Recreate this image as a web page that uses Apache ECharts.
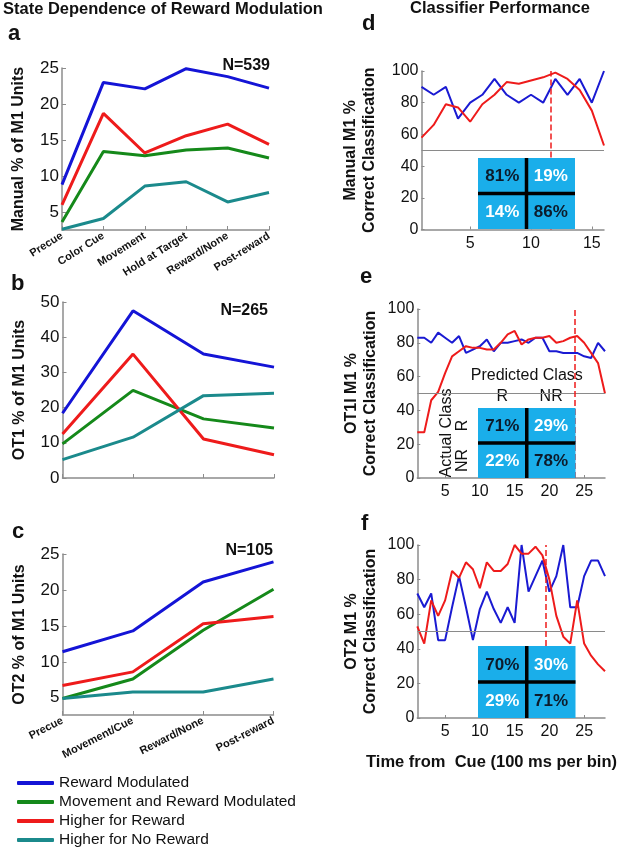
<!DOCTYPE html>
<html>
<head>
<meta charset="utf-8">
<script src="https://cdn.jsdelivr.net/npm/echarts@6/dist/echarts.min.js"></script>
<style>
  html, body { margin: 0; padding: 0; background: #fff; }
  #main { width: 618px; height: 852px; }
</style>
</head>
<body>
<div id="main"></div>
<script>
var statesManual = ['Precue', 'Color Cue', 'Movement', 'Hold at Target', 'Reward/None', 'Post-reward'];
var statesOT = ['Precue', 'Movement/Cue', 'Reward/None', 'Post-reward'];
var groupNames = ['Reward Modulated', 'Movement and Reward Modulated', 'Higher for Reward', 'Higher for No Reward'];

// % of M1 units per group (a: Manual, b: OT1, c: OT2)
var manualRewardMod = [8.8, 23.0, 22.1, 24.9, 23.8, 22.2];
var manualMoveReward = [3.6, 13.4, 12.8, 13.6, 13.9, 12.5];
var manualHigherR = [6.0, 18.7, 13.2, 15.6, 17.2, 14.4];
var manualHigherNR = [2.6, 4.1, 8.6, 9.2, 6.4, 7.7];

var ot1RewardMod = [18.4, 47.5, 35.2, 31.5];
var ot1MoveReward = [9.7, 24.9, 16.8, 14.2];
var ot1HigherR = [12.5, 35.2, 11.1, 6.6];
var ot1HigherNR = [5.2, 11.6, 23.4, 24.1];

var ot2RewardMod = [11.4, 14.3, 21.1, 23.9];
var ot2MoveReward = [4.9, 7.6, 14.4, 20.1];
var ot2HigherR = [6.7, 8.6, 15.3, 16.3];
var ot2HigherNR = [4.9, 5.8, 5.8, 7.6];

// classifier % correct per 100 ms bin (d: Manual, e: OT1I, f: OT2)
var manualBlue = [90, 85, 90, 70, 80, 85, 95, 85, 80, 85, 80, 95, 85, 95, 80, 100];
var manualRed = [58, 66, 79, 77, 68, 79, 85, 93, 92, 94, 96, 99, 95, 88, 75, 53];
var ot1Blue = [83, 83, 80, 86, 83, 80, 84, 74, 76, 78, 82, 75, 80, 80, 81, 82, 80, 83, 83, 75, 75, 74, 74, 74, 72, 71, 80, 75];
var ot1Red = [27, 27, 46, 51, 62, 72, 75, 78, 77, 77, 76, 76, 80, 85, 87, 79, 82, 83, 83, 84, 80, 81, 83, 84, 80, 74, 68, 50];
var ot2Blue = [72, 64, 72, 45, 45, 64, 82, 64, 45, 63, 73, 63, 55, 64, 55, 100, 73, 82, 91, 73, 82, 100, 64, 64, 82, 91, 91, 82];
var ot2Red = [53, 43, 68, 59, 68, 85, 81, 90, 86, 75, 90, 85, 85, 89, 100, 95, 95, 99, 94, 80, 59, 47, 43, 68, 43, 36, 31, 27];
var cueBins = [11.6, 23.6, 19.5];
var chanceLevel = 50;

// confusion matrices [actual][predicted]
var confManual = [[81, 19], [14, 86]];
var confOT1 = [[71, 29], [22, 78]];
var confOT2 = [[70, 30], [29, 71]];
var classLabels = ['R', 'NR'];

var groupColors = ['#1414d6', '#15891a', '#ee1b1b', '#1b8a8c'];
var FONT = "'Liberation Sans', Arial, Helvetica, sans-serif";
var axisGray = '#8c8c8c';

var myChart = echarts.init(document.getElementById('main'));

var grids = [
  { left: 62, top: 68, width: 207, height: 162 },     // a
  { left: 62.5, top: 302, width: 211.5, height: 176 }, // b
  { left: 62.5, top: 554, width: 211, height: 161 },   // c
  { left: 421.5, top: 71, width: 182.5, height: 158.5 }, // d
  { left: 417.3, top: 309, width: 187.7, height: 169 },  // e
  { left: 417.3, top: 545, width: 187.7, height: 173 },  // f
  { left: 478, top: 158, width: 97, height: 71 },        // d matrix
  { left: 478, top: 408, width: 97.5, height: 70 },      // e matrix
  { left: 478, top: 646, width: 97.5, height: 72 }       // f matrix
].map(function (g) { g.outerBoundsMode = 'none'; g.containLabel = false; return g; });

function baseAxisLine() {
  return { show: true, lineStyle: { color: axisGray, width: 1.5 } };
}

var xAxes = [], yAxes = [], series = [];

// left panels
function leftX(gi, data, rotate, showLabels) {
  return {
    gridIndex: gi, type: 'category', data: data, boundaryGap: false,
    axisLine: baseAxisLine(),
    axisTick: { show: true, inside: true, length: 4, lineStyle: { color: axisGray } },
    axisLabel: {
      show: showLabels, rotate: rotate, interval: 0, margin: 5,
      fontSize: 11, fontWeight: 'bold', color: '#111', fontFamily: FONT
    },
    splitLine: { show: false }
  };
}
function leftY(gi, min, max, name) {
  var ax = {
    gridIndex: gi, type: 'value', min: min, max: max,
    name: name, nameLocation: 'middle', nameGap: 35,
    nameTextStyle: { fontSize: 16, fontWeight: 'bold', color: '#111', fontFamily: FONT },
    axisLine: baseAxisLine(),
    axisTick: { show: true, inside: true, length: 4, lineStyle: { color: axisGray } },
    axisLabel: { fontSize: 17, color: '#111', margin: 3, showMinLabel: false, fontFamily: FONT },
    splitLine: { show: false }
  };
  if (min === 0) { ax.interval = 10; ax.axisLabel.showMinLabel = true; } else { ax.splitNumber = 5; }
  return ax;
}

xAxes.push(leftX(0, statesManual, 32, true));
yAxes.push(leftY(0, 2.5, 25, 'Manual % of M1 Units'));
xAxes.push(leftX(1, statesOT, 0, false));
yAxes.push(leftY(1, 0, 50, 'OT1 % of M1 Units'));
xAxes.push(leftX(2, statesOT, 27, true));
yAxes.push(leftY(2, 2.6, 25, 'OT2 % of M1 Units'));

var leftData = [
  [manualRewardMod, manualMoveReward, manualHigherR, manualHigherNR],
  [ot1RewardMod, ot1MoveReward, ot1HigherR, ot1HigherNR],
  [ot2RewardMod, ot2MoveReward, ot2HigherR, ot2HigherNR]
];
leftData.forEach(function (rows, gi) {
  rows.forEach(function (vals, k) {
    series.push({
      type: 'line', name: groupNames[k], xAxisIndex: gi, yAxisIndex: gi,
      data: vals, showSymbol: false, symbol: 'none', silent: true,
      color: groupColors[k],
      lineStyle: { width: 3, color: groupColors[k] }
    });
  });
});

// right panels
function rightX(gi, max) {
  return {
    gridIndex: gi, type: 'value', min: 1, max: max, splitNumber: max > 20 ? 5 : 3,
    axisLine: baseAxisLine(),
    axisTick: { show: true, inside: true, length: 3, lineStyle: { color: axisGray } },
    axisLabel: { fontSize: 16, color: '#111', margin: 6, showMinLabel: false, showMaxLabel: false, fontFamily: FONT },
    splitLine: { show: false }
  };
}
function rightY(gi, name, gap) {
  return {
    gridIndex: gi, type: 'value', min: 0, max: 100, interval: 20,
    name: name, nameLocation: 'middle', nameGap: gap,
    nameTextStyle: { fontSize: 16, fontWeight: 'bold', color: '#111', lineHeight: 19, fontFamily: FONT },
    axisLine: baseAxisLine(),
    axisTick: { show: true, inside: true, length: 3, lineStyle: { color: axisGray } },
    axisLabel: { fontSize: 16, color: '#111', margin: 3, fontFamily: FONT },
    splitLine: { show: false }
  };
}
xAxes.push(rightX(3, 16));
yAxes.push(rightY(3, 'Manual M1 %\nCorrect Classification', 42));
xAxes.push(rightX(4, 28));
yAxes.push(rightY(4, 'OT1I M1 %\nCorrect Classification', 37));
xAxes.push(rightX(5, 28));
yAxes.push(rightY(5, 'OT2 M1 %\nCorrect Classification', 37));

function bins(vals) {
  return vals.map(function (v, i) { return [i + 1, v]; });
}
var rightData = [[manualBlue, manualRed], [ot1Blue, ot1Red], [ot2Blue, ot2Red]];
rightData.forEach(function (pair, p) {
  var gi = 3 + p;
  series.push({
    type: 'line', name: 'Classifier (blue)', xAxisIndex: gi, yAxisIndex: gi,
    data: bins(pair[0]), showSymbol: false, symbol: 'none', silent: true, z: 3,
    lineStyle: { width: 2, color: '#1a1ad2' }, color: '#1a1ad2',
    markLine: {
      silent: true, symbol: 'none', label: { show: false },
      data: [
        { yAxis: chanceLevel, lineStyle: { color: '#8a8a8a', type: 'solid', width: 1.2 } },
        { xAxis: cueBins[p], lineStyle: { color: '#ee1b1b', type: 'dashed', width: 1.5 } }
      ]
    }
  });
  series.push({
    type: 'line', name: 'Classifier (red)', xAxisIndex: gi, yAxisIndex: gi,
    data: bins(pair[1]), showSymbol: false, symbol: 'none', silent: true, z: 3,
    lineStyle: { width: 2, color: '#ee1b1b' }, color: '#ee1b1b'
  });
});

// confusion matrices
function matrixAxes(gi, showLabels) {
  xAxes.push({
    gridIndex: gi, type: 'category', data: classLabels, position: 'top',
    axisLine: { show: false }, axisTick: { show: false }, splitLine: { show: false },
    axisLabel: { show: showLabels, fontSize: 16, color: '#111', margin: 3, fontFamily: FONT },
    name: showLabels ? 'Predicted Class' : '', nameLocation: 'middle', nameGap: 24,
    nameTextStyle: { fontSize: 16, color: '#111', fontFamily: FONT }
  });
  yAxes.push({
    gridIndex: gi, type: 'category', data: classLabels, inverse: true,
    axisLine: { show: false }, axisTick: { show: false }, splitLine: { show: false },
    axisLabel: { show: showLabels, rotate: 90, fontSize: 16, color: '#111', margin: 7, fontFamily: FONT },
    splitArea: { show: false }
  });
}
function matrixSeries(gi, conf) {
  var cells = [];
  conf.forEach(function (row, r) {
    row.forEach(function (v, c) { cells.push([c, r, v]); });
  });
  return {
    type: 'custom', xAxisIndex: gi, yAxisIndex: gi, z: 10, silent: true,
    data: cells,
    renderItem: function (params, api) {
      var c = api.value(0), r = api.value(1);
      var ctr = api.coord([c, r]);
      var sz = api.size([1, 1]);
      var x0 = ctr[0] - sz[0] / 2, y0 = ctr[1] - sz[1] / 2;
      var children = [
        { type: 'rect', shape: { x: x0, y: y0, width: sz[0], height: sz[1] }, style: { fill: '#1aaeea' } },
        {
          type: 'text', z2: 5,
          style: {
            text: api.value(2) + '%', x: ctr[0], y: ctr[1] + 1, align: 'center', verticalAlign: 'middle',
            fontSize: 17, fontWeight: 'bold', fontFamily: FONT, fill: c === r ? '#0d1b2b' : '#ffffff'
          }
        }
      ];
      if (c === 1 && r === 1) {
        children.push({ type: 'line', z2: 10, shape: { x1: x0, y1: y0 - sz[1], x2: x0, y2: y0 + sz[1] }, style: { stroke: '#000', lineWidth: 3.5 } });
        children.push({ type: 'line', z2: 10, shape: { x1: x0 - sz[0], y1: y0, x2: x0 + sz[0], y2: y0 }, style: { stroke: '#000', lineWidth: 3.5 } });
      }
      return { type: 'group', children: children };
    }
  };
}
matrixAxes(6, false); series.push(matrixSeries(6, confManual));
matrixAxes(7, true); series.push(matrixSeries(7, confOT1));
matrixAxes(8, false); series.push(matrixSeries(8, confOT2));

function label(text, x, y, size, align) {
  return {
    type: 'text', x: x, y: y, silent: true,
    style: { text: text, align: align || 'left', verticalAlign: 'middle', fontSize: size, fontWeight: 'bold', fontFamily: FONT, fill: '#111' }
  };
}

myChart.setOption({
  animation: false,
  textStyle: { fontFamily: FONT },
  grid: grids,
  xAxis: xAxes,
  yAxis: yAxes,
  series: series,
  legend: {
    data: groupNames.map(function (n) { return { name: n, icon: 'roundRect' }; }),
    orient: 'vertical', left: 17, top: 775, padding: 0, itemWidth: 37, itemHeight: 4, itemGap: 3,
    selectedMode: false,
    textStyle: { fontSize: 15.5, color: '#111', fontFamily: FONT }
  },
  graphic: [
    label('State Dependence of Reward Modulation', 3, 9, 16.5),
    label('Classifier Performance', 500, 8, 16.5, 'center'),
    label('a', 8, 34, 22), label('b', 11, 284, 22), label('c', 12, 532, 22),
    label('d', 362, 24, 22), label('e', 360, 277, 22), label('f', 361, 524, 22),
    label('N=539', 270, 66, 16, 'right'),
    label('N=265', 268, 311, 16, 'right'),
    label('N=105', 273, 551, 16, 'right'),
    label('Time from  Cue (100 ms per bin)', 617, 762, 16.5, 'right'),
    {
      type: 'text', x: 446.5, y: 433, rotation: Math.PI / 2, silent: true,
      style: { text: 'Actual Class', align: 'center', verticalAlign: 'middle', fontSize: 16, fontFamily: FONT, fill: '#111' }
    }
  ]
});
</script>
</body>
</html>
